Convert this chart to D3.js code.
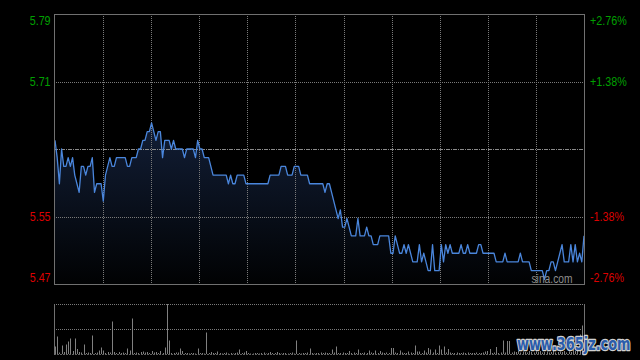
<!DOCTYPE html>
<html><head><meta charset="utf-8">
<script src="https://cdn.jsdelivr.net/npm/d3@7"></script>
<style>html,body{margin:0;padding:0;background:#000;} svg{display:block}</style>
</head><body>
<svg id="c" width="640" height="360"></svg>
<script>
// ---- data ----
const prevClose = 5.63;
const pctTicks = [0.0276, 0.0138, -0.0138, -0.0276];
const gridColumns = 11; // half-hour slots
const prices = [
5.64,5.62,5.59,5.63,5.61,5.61,5.62,5.61,5.62,5.60,
5.59,5.58,5.61,5.61,5.60,5.61,5.61,5.62,5.58,5.59,
5.59,5.59,5.57,5.60,5.61,5.62,5.61,5.61,5.62,5.62,
5.62,5.62,5.62,5.61,5.61,5.62,5.62,5.62,5.63,5.63,
5.64,5.64,5.65,5.65,5.66,5.65,5.64,5.65,5.65,5.62,
5.64,5.64,5.64,5.63,5.64,5.63,5.63,5.63,5.63,5.62,
5.63,5.63,5.63,5.63,5.62,5.64,5.63,5.63,5.62,5.62,
5.62,5.61,5.60,5.60,5.60,5.60,5.60,5.60,5.60,5.59,
5.60,5.59,5.59,5.60,5.60,5.60,5.60,5.59,5.59,5.59,
5.59,5.59,5.59,5.59,5.59,5.59,5.59,5.59,5.60,5.60,
5.60,5.60,5.60,5.61,5.61,5.61,5.60,5.60,5.60,5.61,
5.61,5.61,5.60,5.60,5.60,5.60,5.59,5.59,5.59,5.59,
5.59,5.59,5.59,5.58,5.59,5.59,5.58,5.57,5.56,5.55,
5.56,5.54,5.54,5.55,5.54,5.53,5.53,5.53,5.55,5.53,
5.53,5.53,5.54,5.53,5.53,5.52,5.52,5.52,5.53,5.53,
5.53,5.53,5.53,5.51,5.51,5.53,5.52,5.51,5.51,5.52,
5.51,5.52,5.51,5.50,5.50,5.50,5.52,5.50,5.51,5.50,
5.49,5.49,5.52,5.49,5.49,5.49,5.52,5.50,5.52,5.51,
5.52,5.51,5.51,5.51,5.51,5.52,5.51,5.51,5.52,5.51,
5.51,5.51,5.51,5.52,5.52,5.51,5.51,5.51,5.51,5.51,
5.51,5.50,5.50,5.50,5.50,5.51,5.50,5.50,5.50,5.50,
5.50,5.50,5.51,5.50,5.50,5.50,5.50,5.49,5.49,5.49,
5.49,5.49,5.49,5.48,5.49,5.49,5.50,5.50,5.49,5.50,
5.51,5.52,5.50,5.50,5.50,5.52,5.50,5.52,5.50,5.51,
5.50,5.53
];
const volumes = [
15,35,3,17,4,19,25,31,6,31,
10,4,3,19,2,3,2,37,2,3,
7,13,7,2,4,3,65,4,2,4,
2,3,2,11,7,71,2,3,2,4,
5,3,4,2,6,3,4,2,6,2,
13,100,27,2,2,3,3,11,6,2,
2,1,2,2,1,11,2,2,1,43,
2,4,2,2,5,2,1,2,3,1,
2,1,2,3,9,2,3,6,2,1,
1,2,2,1,2,3,1,2,4,2,
2,4,2,1,2,2,1,2,3,1,
27,2,1,2,2,3,11,2,1,2,
2,3,2,3,2,2,9,3,15,2,
2,3,2,2,6,2,3,2,9,2,
2,3,2,7,3,2,7,2,6,3,
2,3,2,12,12,3,2,7,3,2,
2,5,3,2,17,5,5,2,7,3,
12,9,3,9,2,17,9,15,3,10,
3,2,2,3,2,2,3,2,3,2,
2,2,3,2,2,3,5,6,10,2,
3,14,2,3,27,3,26,26,3,5,
4,6,3,5,4,3,6,4,3,5,
4,6,3,4,5,3,4,6,3,4,
5,4,6,3,5,4,8,6,9,39,
57,46
];

// ---- layout ----
const svg = d3.select("#c");
const P = {l:54, r:584, t:14, b:284};
const V = {t:304, b:354};
const gridC = "#7a7a7a", borderC = "#707070";

svg.append("rect").attr("width",640).attr("height",360).attr("fill","#000");

const x = d3.scaleLinear().domain([0, prices.length-1]).range([55, 584]);
const y = d3.scaleLinear()
  .domain([prevClose*(1+pctTicks[3]), prevClose*(1+pctTicks[0])])
  .range([P.b, P.t]);
const col = d3.scaleLinear().domain([0, gridColumns]).range([55, 584]);
const yv = d3.scaleLinear().domain([0, d3.max(volumes)]).range([V.b, V.t]);
const priceTicks = pctTicks.map(p => prevClose*(1+p));

// gradient
const defs = svg.append("defs");
const g = defs.append("linearGradient").attr("id","fillg")
  .attr("gradientUnits","userSpaceOnUse")
  .attr("x1",0).attr("x2",0).attr("y1", y(d3.max(prices))).attr("y2", P.b);
g.append("stop").attr("offset",0).attr("stop-color","#121e36");
g.append("stop").attr("offset",1).attr("stop-color","#010203");

// area
svg.append("path").datum(prices)
  .attr("fill","url(#fillg)")
  .attr("d", d3.area().x((d,i)=>x(i)).y0(P.b).y1(d=>y(d)));

// grid
const crisp = v => Math.round(v) + 0.5;
svg.append("g").selectAll("line").data(d3.range(1, gridColumns)).join("line")
  .attr("x1", d=>crisp(col(d))).attr("x2", d=>crisp(col(d)))
  .attr("y1", P.t).attr("y2", P.b)
  .attr("stroke", gridC).attr("stroke-dasharray","1,1");
svg.append("g").selectAll("line").data([priceTicks[1], priceTicks[2]]).join("line")
  .attr("x1", P.l).attr("x2", P.r)
  .attr("y1", d=>crisp(y(d))).attr("y2", d=>crisp(y(d)))
  .attr("stroke", gridC).attr("stroke-dasharray","1,1");
svg.append("line")
  .attr("x1", P.l).attr("x2", P.r)
  .attr("y1", crisp(y(prevClose))).attr("y2", crisp(y(prevClose)))
  .attr("stroke", "#8a8a8a").attr("stroke-dasharray","4,1,1,1");

// price line
svg.append("path").datum(prices)
  .attr("fill","none").attr("stroke","#4a86dc").attr("stroke-width",1.3)
  .attr("stroke-linejoin","round")
  .attr("d", d3.line().x((d,i)=>x(i)).y(d=>y(d)));

// main border
svg.append("rect").attr("x",P.l+0.5).attr("y",P.t+0.5)
  .attr("width",P.r-P.l).attr("height",P.b-P.t)
  .attr("fill","none").attr("stroke",borderC);

// axes labels
const green = "#00a000", red = "#dd0000";
const leftAx = svg.append("g").attr("transform",`translate(${P.l},0)`)
  .call(d3.axisLeft(y).tickValues(priceTicks).tickSize(0).tickPadding(4).tickFormat(d3.format(".2f")));
const rightAx = svg.append("g").attr("transform",`translate(${P.r},0)`)
  .call(d3.axisRight(y).tickValues(priceTicks).tickSize(0).tickPadding(7)
    .tickFormat((d,i)=> (pctTicks[i]>0?"+":"-") + Math.abs(pctTicks[i]*100).toFixed(2) + "%"));
[leftAx, rightAx].forEach(ax => {
  ax.select(".domain").remove();
  ax.selectAll("text")
    .attr("font-family","'Liberation Sans', Arial, sans-serif")
    .attr("font-size","12.5px")
    .attr("fill",(d)=> d>prevClose ? green : red)
    .attr("y",(d,i)=> i===0 ? 6 : (i===priceTicks.length-1 ? -6.5 : 0))
    .attr("transform","scale(0.86,1)");
});

// sina watermark
svg.append("text").attr("x",552).attr("y",282.5).attr("text-anchor","middle")
  .attr("font-family","'Liberation Sans', Arial, sans-serif").attr("font-size","12.5px")
  .attr("fill","#8e8e8e").attr("textLength",41).attr("lengthAdjust","spacingAndGlyphs")
  .text("sina.com");

// volume panel
svg.append("g").selectAll("line").data([V.t, (V.t+V.b)/2]).join("line")
  .attr("x1",P.l).attr("x2",P.r).attr("y1",d=>crisp(d)).attr("y2",d=>crisp(d))
  .attr("stroke",gridC).attr("stroke-dasharray","1,1");
svg.append("g").selectAll("rect").data(volumes).join("rect")
  .attr("x",(d,i)=>Math.round(x(i))).attr("width",1)
  .attr("y",d=>yv(d)).attr("height",d=>V.b - yv(d))
  .attr("fill","#808080");
svg.append("line").attr("x1",P.l).attr("x2",P.r).attr("y1",V.b+0.5).attr("y2",V.b+0.5)
  .attr("stroke","#606060").attr("stroke-dasharray","2,1");
svg.append("line").attr("x1",P.l+0.5).attr("x2",P.l+0.5).attr("y1",V.t).attr("y2",V.b+1).attr("stroke",borderC);
svg.append("line").attr("x1",P.r+0.5).attr("x2",P.r+0.5).attr("y1",V.t).attr("y2",V.b+1).attr("stroke",borderC);

// site watermark
svg.append("text").attr("transform","translate(517,350) scale(0.76,1)")
  .attr("font-family","'DejaVu Sans', sans-serif").attr("font-weight","bold").attr("font-size","17px")
  .attr("fill","#2a5cab").attr("stroke","#d0d0d0").attr("stroke-width",2.5)
  .attr("paint-order","stroke").attr("stroke-linejoin","round")
  .text("www.365jz.com");
</script>
</body></html>
